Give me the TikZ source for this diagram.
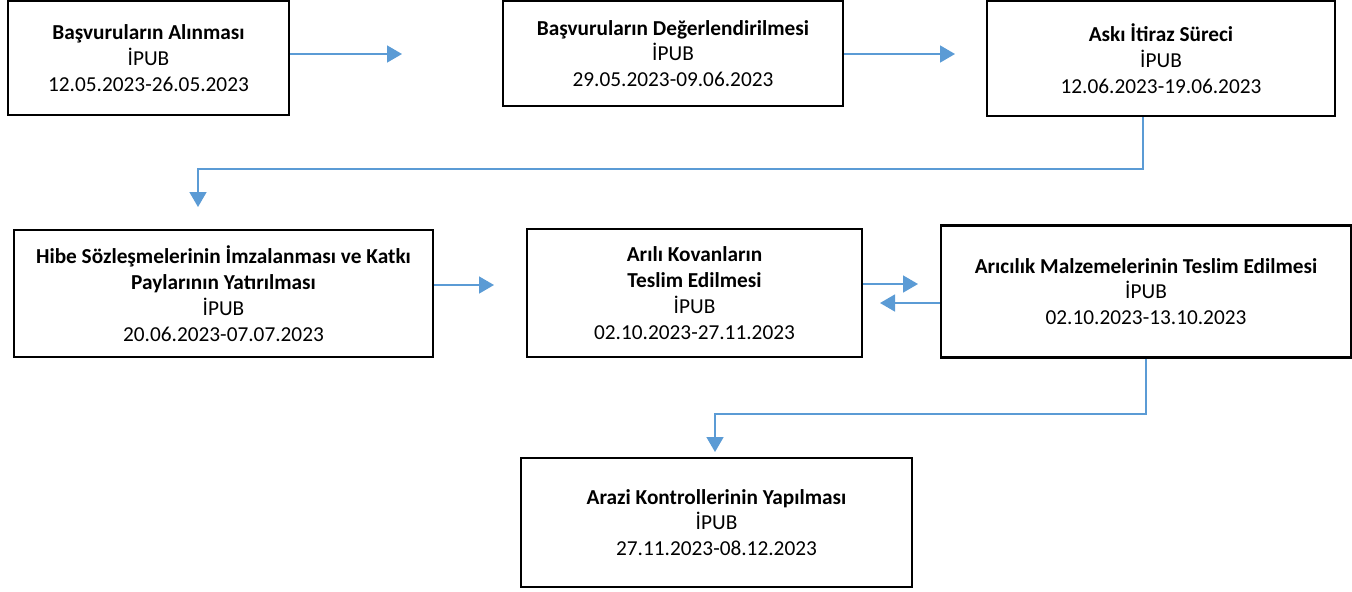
\documentclass[tikz,border=0pt]{standalone}
\usepackage{fontspec}
\setmainfont{Carlito}
\usetikzlibrary{positioning,arrows.meta}
\definecolor{linkblue}{HTML}{5B9BD5}

\begin{document}
\begin{tikzpicture}[x=0.5pt,y=-0.5pt,
    stage/.style={draw,line width=1.3pt,align=center,inner sep=0pt,
      font=\fontsize{10.65}{12.9}\selectfont},
    link/.style={linkblue,line width=0.8pt,-{Triangle[length=7.5pt,width=8.5pt]}}]
    \useasboundingbox (0,0) rectangle (1352,591);

    % first row
    \node[stage,minimum width=140.5pt,minimum height=57pt] (alinma) at (148.5,58)
        {\textbf{Başvuruların Alınması}\\İPUB\\12.05.2023-26.05.2023};
    \node[stage,minimum width=170pt,minimum height=52.5pt] (degerlendirme) at (673,53.5)
        {\textbf{Başvuruların Değerlendirilmesi}\\İPUB\\29.05.2023-09.06.2023};
    \node[stage,minimum width=174pt,minimum height=57.5pt] (itiraz) at (1161,58.5)
        {\textbf{Askı İtiraz Süreci}\\İPUB\\12.06.2023-19.06.2023};

    % second row
    \node[stage,minimum width=209.5pt,minimum height=63.5pt] (hibe) at (223.5,293.5)
        {\textbf{Hibe Sözleşmelerinin İmzalanması ve Katkı}\\\textbf{Paylarının Yatırılması}\\İPUB\\20.06.2023-07.07.2023};
    \node[stage,minimum width=167.5pt,minimum height=64pt] (kovan) at (694.5,293)
        {\textbf{Arılı Kovanların}\\\textbf{Teslim Edilmesi}\\İPUB\\02.10.2023-27.11.2023};
    \node[stage,minimum width=205pt,minimum height=66pt] (malzeme) at (1146,291.5)
        {\textbf{Arıcılık Malzemelerinin Teslim Edilmesi}\\İPUB\\02.10.2023-13.10.2023};

    % last row
    \node[stage,minimum width=195.5pt,minimum height=64.5pt] (kontrol) at (716.5,522.5)
        {\textbf{Arazi Kontrollerinin Yapılması}\\İPUB\\27.11.2023-08.12.2023};

    % free arrow ends and bends
    \coordinate (a1) at (402,54);
    \coordinate (a2) at (955,54);
    \coordinate (k3) at (1143,169);
    \coordinate (a3) at (198,207);
    \coordinate (a4) at (494,285);
    \coordinate (a5) at (918,284);
    \coordinate (a6) at (880,303);
    \coordinate (k7) at (1146,414);
    \coordinate (a7) at (715,452);

    \draw[link] (alinma.east |- a1) -- (a1);
    \draw[link] (degerlendirme.east |- a2) -- (a2);
    \draw[link] (itiraz.south -| k3) -- (k3) -| (a3);
    \draw[link] (hibe.east |- a4) -- (a4);
    \draw[link] (kovan.east |- a5) -- (a5);
    \draw[link] (malzeme.west |- a6) -- (a6);
    \draw[link] (malzeme.south) -- (k7) -| (a7);

\end{tikzpicture}
\end{document}
